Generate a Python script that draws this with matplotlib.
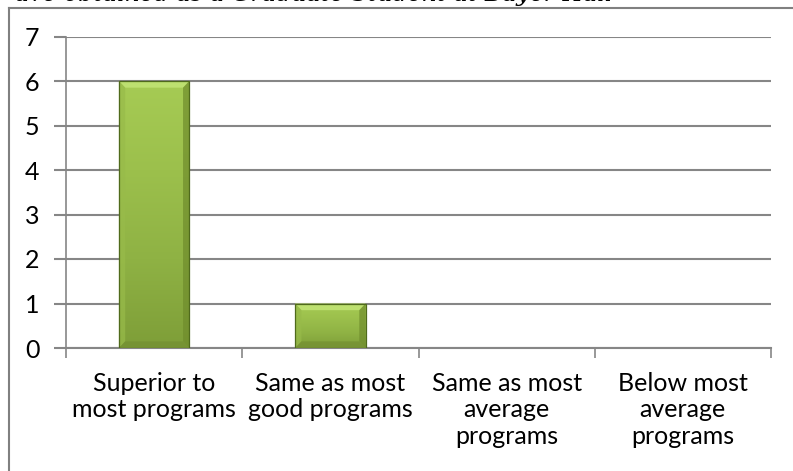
import numpy as np
import matplotlib
matplotlib.use("Agg")
import matplotlib.pyplot as plt
from matplotlib.colors import LinearSegmentedColormap
from matplotlib.patches import Polygon
from matplotlib.lines import Line2D

categories = ["Superior to\nmost programs", "Same as most\ngood programs",
              "Same as most\naverage\nprograms", "Below most\naverage\nprograms"]
counts = [6, 1, 0, 0]
y_ticks = [0, 1, 2, 3, 4, 5, 6, 7]
title_text = "ave obtained as a Graduate Student at Bayer Hall"

plt.rcParams['font.family'] = ['Lato', 'DejaVu Sans']

fig = plt.figure(figsize=(7.93, 4.71), dpi=100)
ax = fig.add_axes([66/793, 123/471, 705/793, 311.5/471])

grid_c = "#868686"
x = np.arange(len(categories))
bars = ax.bar(x, counts, width=0.4, color="none", edgecolor="none", zorder=3)

# vertical gradient for the bar body
body = LinearSegmentedColormap.from_list("body", ["#7e9e38", "#8fb244", "#9cc04c", "#a6cb54"])
grad = np.linspace(0, 1, 256).reshape(-1, 1)
for b, v in zip(bars, counts):
    if v <= 0:
        continue
    x0, w, h = b.get_x(), b.get_width(), b.get_height()
    im = ax.imshow(grad, cmap=body, origin="lower", aspect="auto",
                   extent=(x0, x0 + w, 0, h), zorder=3)
    im.set_clip_path(b)
    bx = w * 0.09
    by = 0.15
    # bevel: top light, sides, bottom darker
    ax.add_patch(Polygon([(x0, h), (x0 + w, h), (x0 + w - bx, h - by), (x0 + bx, h - by)],
                         closed=True, facecolor="#bde070", edgecolor="none", zorder=4))
    ax.add_patch(Polygon([(x0, h), (x0 + bx, h - by), (x0 + bx, by), (x0, 0)],
                         closed=True, facecolor="#98bb4a", edgecolor="none", alpha=0.7, zorder=4))
    ax.add_patch(Polygon([(x0 + w, h), (x0 + w - bx, h - by), (x0 + w - bx, by), (x0 + w, 0)],
                         closed=True, facecolor="#6f8c2c", edgecolor="none", alpha=0.7, zorder=4))
    ax.add_patch(Polygon([(x0, 0), (x0 + w, 0), (x0 + w - bx, by), (x0 + bx, by)],
                         closed=True, facecolor="#748f32", edgecolor="none", alpha=0.7, zorder=4))
    ax.add_patch(plt.Rectangle((x0, 0), w, h, facecolor="none", edgecolor="#4f6a1c",
                               linewidth=0.9, zorder=5))

ax.set_xlim(-0.5, len(categories) - 0.5)
ax.set_ylim(0, 7)
ax.set_yticks(y_ticks)
ax.set_xticks(x)
ax.set_xticklabels(categories, fontsize=18, linespacing=1.2)
ax.set_xticks(np.arange(len(categories) + 1) - 0.5, minor=True)
ax.tick_params(axis="x", which="major", length=0, pad=17)
ax.tick_params(axis="x", which="minor", length=7, width=1.2, color=grid_c, direction="out")
ax.tick_params(axis="y", length=9, width=1.5, color=grid_c, direction="out", pad=10, labelsize=18)

ax.yaxis.grid(True, color=grid_c, linewidth=1.5, zorder=0)
ax.set_axisbelow(True)
for s in ["top", "right"]:
    ax.spines[s].set_visible(False)
ax.spines["left"].set_color(grid_c)
ax.spines["left"].set_linewidth(1.2)
ax.spines["bottom"].set_color(grid_c)
ax.spines["bottom"].set_linewidth(1.5)

# outer frame (cut off at the right and bottom)
fig.add_artist(Line2D([9/793, 9/793], [0, 1 - 8/471], color="#808080", linewidth=1.5))
fig.add_artist(Line2D([9/793, 1], [1 - 8/471, 1 - 8/471], color="#808080", linewidth=1.5))

# title text, mostly cut off by the top edge
fig.text(15/793, 1 - 1/471, title_text, fontsize=17, family="DejaVu Serif",
         style="italic", va="baseline", ha="left")

fig.savefig("out.png", dpi=100)
